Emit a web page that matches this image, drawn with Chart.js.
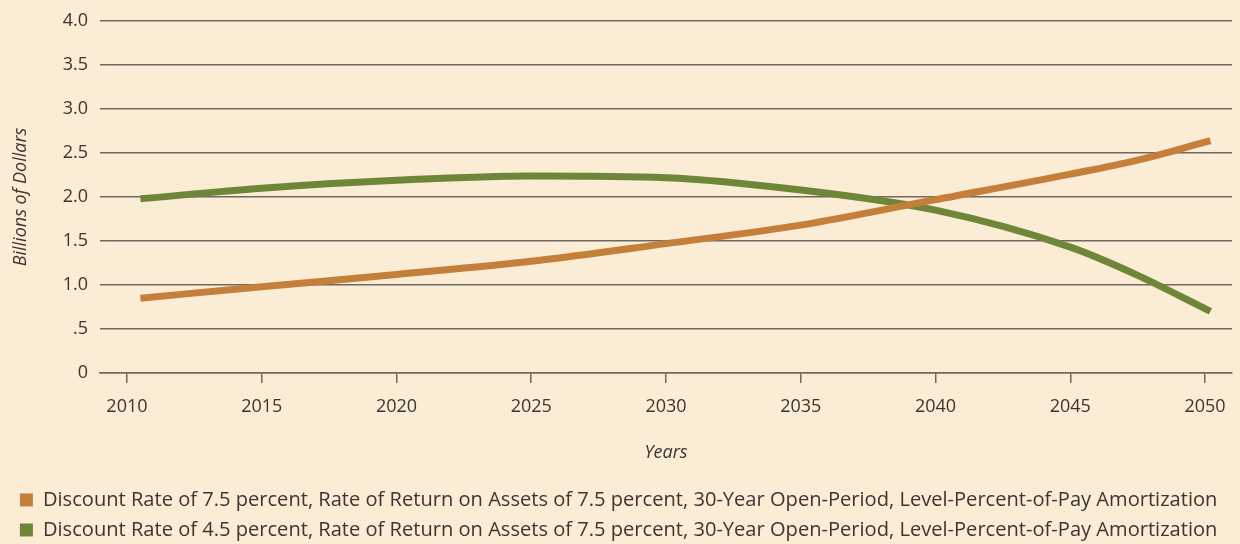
<!DOCTYPE html>
<html>
<head>
<meta charset="utf-8">
<script src="https://cdn.jsdelivr.net/npm/chart.js@4/dist/chart.umd.min.js"></script>
<style>
  body { margin: 0; background: #fbecd5; }
  #wrap { width: 1240px; height: 544px; }
</style>
</head>
<body>
<div id="wrap"><canvas id="projChart"></canvas></div>
<script>
// Projected values, billions of dollars
const years = [2010.5, 2015, 2020, 2025, 2030, 2035, 2040, 2045, 2047.5, 2050.2];
const rate75 = [0.85, 0.98, 1.12, 1.27, 1.47, 1.68, 1.97, 2.26, 2.42, 2.64];
const rate45 = [1.98, 2.10, 2.19, 2.24, 2.22, 2.08, 1.85, 1.43, 1.11, 0.70];
const yearTicks = [2010, 2015, 2020, 2025, 2030, 2035, 2040, 2045, 2050];
const valueTicks = [0, 0.5, 1, 1.5, 2, 2.5, 3, 3.5, 4];
const valueLabels = ['0', '.5', '1.0', '1.5', '2.0', '2.5', '3.0', '3.5', '4.0'];
const seriesNames = [
    'Discount Rate of 7.5 percent, Rate of Return on Assets of 7.5 percent, 30-Year Open-Period, Level-Percent-of-Pay Amortization',
    'Discount Rate of 4.5 percent, Rate of Return on Assets of 7.5 percent, 30-Year Open-Period, Level-Percent-of-Pay Amortization'
];

const textColor = '#3a3632';
const gridColor = '#6e6862';
const fontFamily = '"Open Sans", Lato, sans-serif';

function toPoints(vals) {
    return vals.map((v, i) => ({ x: years[i], y: v }));
}

const ctx = document.getElementById('projChart').getContext('2d');
new Chart(ctx, {
    type: 'line',
    data: {
        datasets: [{
            label: seriesNames[0],
            data: toPoints(rate75),
            borderColor: '#c4803a',
            backgroundColor: '#c4803a',
            borderWidth: 7,
            pointRadius: 0,
            cubicInterpolationMode: 'monotone'
        }, {
            label: seriesNames[1],
            data: toPoints(rate45),
            borderColor: '#6f8639',
            backgroundColor: '#6f8639',
            borderWidth: 7,
            pointRadius: 0,
            cubicInterpolationMode: 'monotone'
        }]
    },
    options: {
        responsive: true,
        maintainAspectRatio: false,
        animation: false,
        layout: { padding: { top: 3, right: 8, left: 10, bottom: -6 } },
        plugins: {
            tooltip: { enabled: false },
            legend: {
                position: 'bottom',
                align: 'start',
                labels: {
                    color: textColor,
                    font: { family: fontFamily, size: 20.1 },
                    boxWidth: 13,
                    boxHeight: 13,
                    padding: 9.9,
                    // plain filled squares, no thick outline
                    generateLabels: function (chart) {
                        const items = Chart.defaults.plugins.legend.labels.generateLabels(chart);
                        items.forEach(it => { it.lineWidth = 0; });
                        return items;
                    }
                }
            }
        },
        scales: {
            x: {
                type: 'linear',
                min: 2009,
                max: 2051,
                afterBuildTicks: function (scale) {
                    scale.ticks = yearTicks.map(v => ({ value: v }));
                },
                afterFit: function (scale) {
                    scale.height = 107;
                },
                ticks: {
                    color: textColor,
                    font: { family: fontFamily, size: 18 },
                    padding: 13,
                    maxRotation: 0,
                    callback: v => String(v)
                },
                grid: {
                    drawOnChartArea: false,
                    drawTicks: true,
                    tickLength: 10,
                    color: gridColor,
                    lineWidth: 1.5
                },
                border: { display: true, color: gridColor, width: 1.5 },
                title: {
                    display: true,
                    text: 'Years',
                    color: textColor,
                    font: { family: fontFamily, size: 18, style: 'italic' },
                    padding: { top: 12, bottom: 16 }
                }
            },
            y: {
                min: 0,
                max: 4,
                afterBuildTicks: function (scale) {
                    scale.ticks = valueTicks.map(v => ({ value: v }));
                },
                afterFit: function (scale) {
                    scale.width = 90;
                },
                ticks: {
                    color: textColor,
                    font: { family: fontFamily, size: 18, lineHeight: 1 },
                    padding: 12,
                    callback: v => valueLabels[valueTicks.indexOf(v)]
                },
                grid: {
                    drawTicks: false,
                    color: gridColor,
                    lineWidth: 1.5
                },
                border: { display: false },
                title: {
                    display: true,
                    text: 'Billions of Dollars',
                    color: textColor,
                    font: { family: fontFamily, size: 18, style: 'italic' },
                    padding: { top: 0, bottom: 4 }
                }
            }
        }
    }
});
</script>
</body>
</html>
